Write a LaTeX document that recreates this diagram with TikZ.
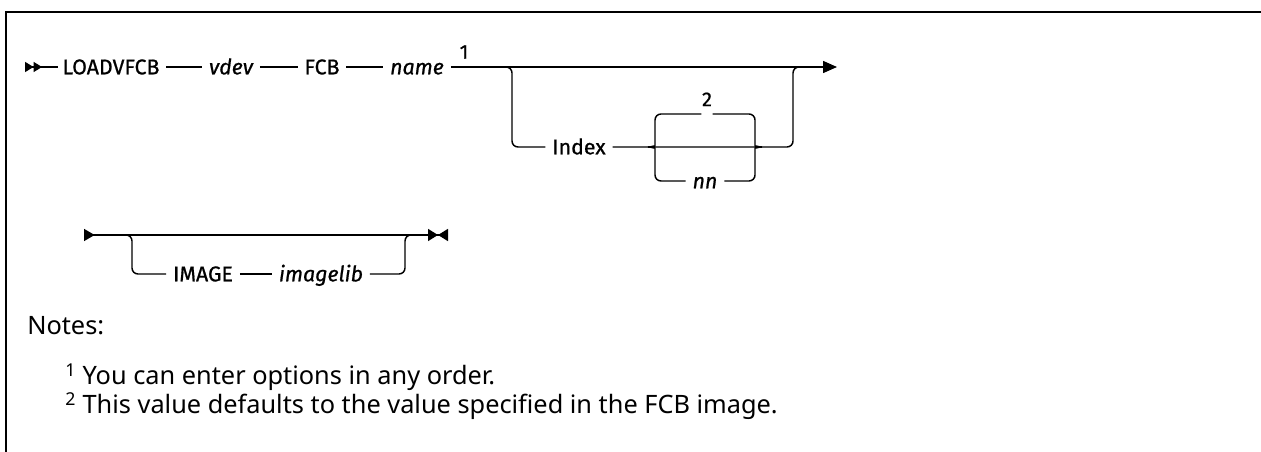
\documentclass[tikz,border=0pt]{standalone}
\usepackage{fontspec}
\setmainfont{Noto Sans}
\newfontfamily\diagfont{Fira Sans}[FakeBold=0.8]
\usepackage{tikz}
\usetikzlibrary{positioning, arrows.meta}

\begin{document}
\begin{tikzpicture}[
        x=0.75pt, y=-0.75pt,
        kw/.style={font=\diagfont\fontsize{16}{19}\selectfont, inner xsep=5pt, inner ysep=0pt, text height=11pt, text depth=0pt},
        var/.style={kw, font=\diagfont\itshape\fontsize{16}{19}\selectfont},
        ref/.style={font=\diagfont\fontsize{15}{18}\selectfont, inner sep=0pt},
        rail/.style={line width=1.1pt, rounded corners=4.5pt},
        arr/.style={-{Triangle[length=10.5pt, width=9pt]}},
        dstart/.style={{Triangle[reversed, length=6.4pt, width=7.5pt]Triangle[reversed, length=6.4pt, width=7.5pt]}-},
        contmark/.style={{Triangle[reversed, length=8pt, width=9pt]}-{Triangle[length=7.5pt, width=9pt]Triangle[reversed, length=7.5pt, width=9pt]}},
        note/.style={anchor=base west, inner sep=0pt, font=\fontsize{19}{23}\selectfont},
    ]
    \useasboundingbox (0,0) rectangle (1261,452);
    \draw[line width=1.5pt] (1261,12) -- (6,12) -- (6,452);

    % ---- First line ----
    \coordinate (start1) at (25,67);
    \node[kw] (loadvfcb) at (111,67) {LOADVFCB};
    \node[var] (vdev) at (231,67) {vdev};
    \node[kw] (fcb) at (322,67) {FCB};
    \node[var] (name) at (417,67) {name};
    \node[ref] (ref1) at (464,52) {1};
    \coordinate (end1) at (837,67);

    \draw[rail, dstart, shorten >=-2pt] (start1) -- (loadvfcb);
    \draw[rail] (loadvfcb) -- (vdev);
    \draw[rail] (vdev) -- (fcb);
    \draw[rail] (fcb) -- (name);
    \draw[rail, arr] (name) -- (end1);

    % ---- Index option ----
    \node[kw] (index) at (579,147) {Index};
    \node[inner sep=0pt, minimum width=8pt, minimum height=1pt] (dflt) at (707,114) {};
    \node[ref, above=5pt of dflt] (ref2) {2};
    \node[var] (nn) at (705,181) {nn};

    \draw[rail] (500,67) -- (512,67) -- (512,147) -- (index);
    \draw[rail] (index) -- (793,147) -- (793,67) -- (805,67);
    \draw[rail] (648,147) .. controls (653,147) and (655,145) .. (655,140) -- (655,114) -- (dflt.west);
    \draw[rail] (dflt.east) -- (755,114) -- (755,140) .. controls (755,145) and (757,147) .. (762,147);
    \draw[rail] (648,147) .. controls (653,147) and (655,149) .. (655,154) -- (655,181) -- (nn);
    \draw[rail] (nn) -- (755,181) -- (755,154) .. controls (755,149) and (757,147) .. (762,147);

    % ---- Second line ----
    \coordinate (start2) at (84,235);
    \coordinate (end2) at (448,235);
    \node[kw] (image) at (203,274) {IMAGE};
    \node[var] (imagelib) at (321,274) {imagelib};

    \draw[rail, contmark] (start2) -- (end2);
    \draw[rail] (120,235) -- (132,235) -- (132,274) -- (image);
    \draw[rail] (image) -- (imagelib);
    \draw[rail] (imagelib) -- (405,274) -- (405,235) -- (417,235);

    % ---- Notes ----
    \node[note] (notes) at (27,335) {Notes:};
    \node[note] (note1) at (65,385) {\textsuperscript{1} You can enter options in any order.};
    \node[note] (note2) at (65,414) {\textsuperscript{2} This value defaults to the value specified in the FCB image.};
\end{tikzpicture}
\end{document}
